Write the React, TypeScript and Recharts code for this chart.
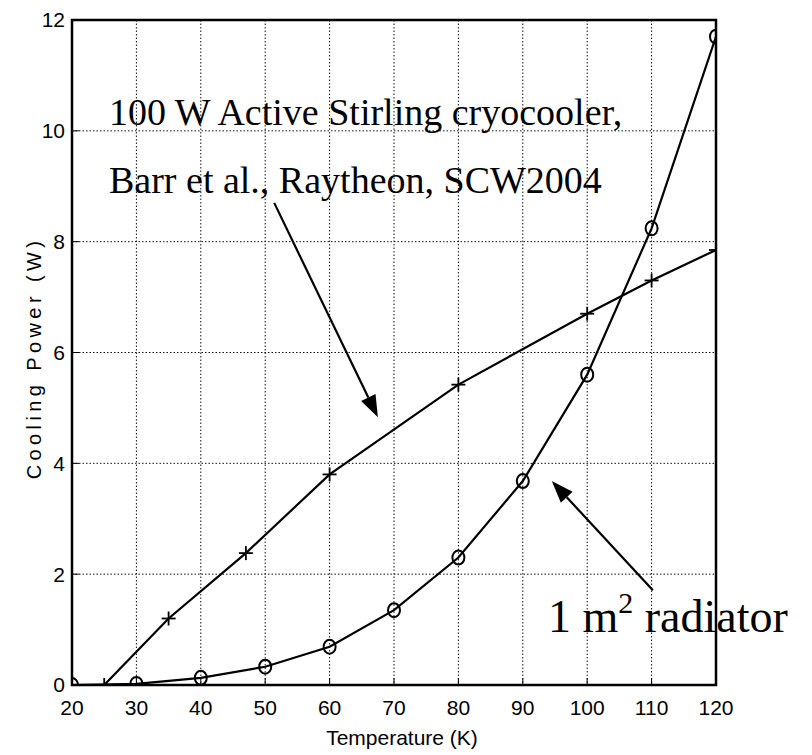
import { ComposedChart, Line, XAxis, YAxis, CartesianGrid, ReferenceLine, ReferenceArea } from 'recharts';

// Stirling cryocooler (+ markers)
const cryoTemps = [25, 35, 47, 60, 80, 100, 110, 120];
const cryoPower = [0, 1.2, 2.38, 3.8, 5.42, 6.7, 7.3, 7.85];

// 1 m^2 radiator (o markers)
const radTemps = [20, 30, 40, 50, 60, 70, 80, 90, 100, 110, 120];
const radPower = [0, 0.02, 0.13, 0.33, 0.69, 1.35, 2.3, 3.68, 5.6, 8.24, 11.7];

const xTicks = [20, 30, 40, 50, 60, 70, 80, 90, 100, 110, 120];
const yTicks = [0, 2, 4, 6, 8, 10, 12];

// annotation arrows, tail -> tip, in data units
const cryoArrow = [{ x: 51.4, y: 8.7 }, { x: 67.5, y: 4.83 }];
const radArrow = [{ x: 110.2, y: 1.71 }, { x: 94.5, y: 3.68 }];

const cryoData = cryoTemps.map((t, i) => ({ t, p: cryoPower[i] }));
const radData = radTemps.map((t, i) => ({ t, p: radPower[i] }));

const tickFont = "'Liberation Sans Narrow', 'Arial Narrow', 'Liberation Sans', Arial, sans-serif";
const serif = "'Liberation Serif', 'Times New Roman', serif";

const PlusDot = (props: any) => {
  const { cx, cy, index } = props;
  if (cx == null || cy == null) return null;
  return (
    <g key={`plus-${index}`}>
      <line x1={cx - 7} y1={cy} x2={cx + 7} y2={cy} stroke="#000" strokeWidth={1.8} />
      <line x1={cx} y1={cy - 7} x2={cx} y2={cy + 7} stroke="#000" strokeWidth={1.8} />
    </g>
  );
};

const CircleDot = (props: any) => {
  const { cx, cy, index } = props;
  if (cx == null || cy == null) return null;
  return <ellipse key={`circ-${index}`} cx={cx} cy={cy} rx={6} ry={7} fill="none" stroke="#000" strokeWidth={2} />;
};

const ArrowShape = (props: any) => {
  const { x1, y1, x2, y2 } = props;
  const dx = x2 - x1;
  const dy = y2 - y1;
  const len = Math.sqrt(dx * dx + dy * dy);
  const ux = dx / len;
  const uy = dy / len;
  const headLen = 22;
  const headW = 8;
  const bx = x2 - ux * headLen;
  const by = y2 - uy * headLen;
  const pts = `${x2},${y2} ${bx - uy * headW},${by + ux * headW} ${bx + uy * headW},${by - ux * headW}`;
  return (
    <g>
      <line x1={x1} y1={y1} x2={bx} y2={by} stroke="#000" strokeWidth={2.2} />
      <polygon points={pts} fill="#000" />
    </g>
  );
};

// plain rectangle outline for the plot frame
const FrameShape = (props: any) => {
  const { x, y, width, height } = props;
  return <rect x={x} y={y} width={width} height={height} fill="none" stroke="#000" strokeWidth={2.5} />;
};

export default function App() {
  return (
    <div style={{ position: 'absolute', left: 0, top: 0, width: 812, height: 755, background: '#fff' }}>
      <ComposedChart width={812} height={755} margin={{ top: 20, right: 96, bottom: 0, left: 0 }}>
        <CartesianGrid stroke="#111" strokeDasharray="1.5 2" strokeWidth={1} />
        <XAxis
          dataKey="t"
          type="number"
          domain={[20, 120]}
          ticks={xTicks}
          height={70}
          stroke="#000"
          axisLine={{ stroke: '#000', strokeWidth: 2 }}
          tickSize={-7}
          tickMargin={22}
          tick={{ fill: '#000', fontSize: 21, fontFamily: tickFont }}
          allowDataOverflow
        />
        <YAxis
          type="number"
          domain={[0, 12]}
          ticks={yTicks}
          width={72}
          stroke="#000"
          axisLine={{ stroke: '#000', strokeWidth: 2 }}
          tickSize={-7}
          tickMargin={14}
          tick={{ fill: '#000', fontSize: 21, fontFamily: tickFont }}
          allowDataOverflow
        />
        <ReferenceArea x1={20} x2={120} y1={0} y2={12} ifOverflow="visible" shape={FrameShape} />
        <Line
          data={radData}
          dataKey="p"
          type="linear"
          stroke="#000"
          strokeWidth={2.2}
          dot={CircleDot}
          activeDot={false}
          isAnimationActive={false}
        />
        <Line
          data={cryoData}
          dataKey="p"
          type="linear"
          stroke="#000"
          strokeWidth={2.2}
          dot={PlusDot}
          activeDot={false}
          isAnimationActive={false}
        />
        <ReferenceLine segment={cryoArrow} shape={ArrowShape} />
        <ReferenceLine segment={radArrow} shape={ArrowShape} />
      </ComposedChart>

      {/* annotations and axis titles */}
      <svg width={812} height={755} style={{ position: 'absolute', left: 0, top: 0, pointerEvents: 'none' }}>
        <text x={109} y={125} fontFamily={serif} fontSize={38} fill="#000">
          100 W Active Stirling cryocooler,
        </text>
        <text x={109} y={193} fontFamily={serif} fontSize={38} fill="#000">
          Barr et al., Raytheon, SCW2004
        </text>
        <text x={548} y={632} fontFamily={serif} fontSize={46} fill="#000">
          1 m
          <tspan fontSize={30} dy={-19}>2</tspan>
          <tspan dy={19}> radiator</tspan>
        </text>
        <text x={402} y={745} textAnchor="middle" fontFamily={tickFont} fontSize={21} fill="#000">
          Temperature (K)
        </text>
        <text
          x={0}
          y={0}
          transform="translate(41, 358) rotate(-90)"
          textAnchor="middle"
          fontFamily="'Liberation Sans', Arial, sans-serif"
          fontSize={20}
          letterSpacing={4.4}
          fill="#000"
        >
          Cooling Power (W)
        </text>
      </svg>
    </div>
  );
}
